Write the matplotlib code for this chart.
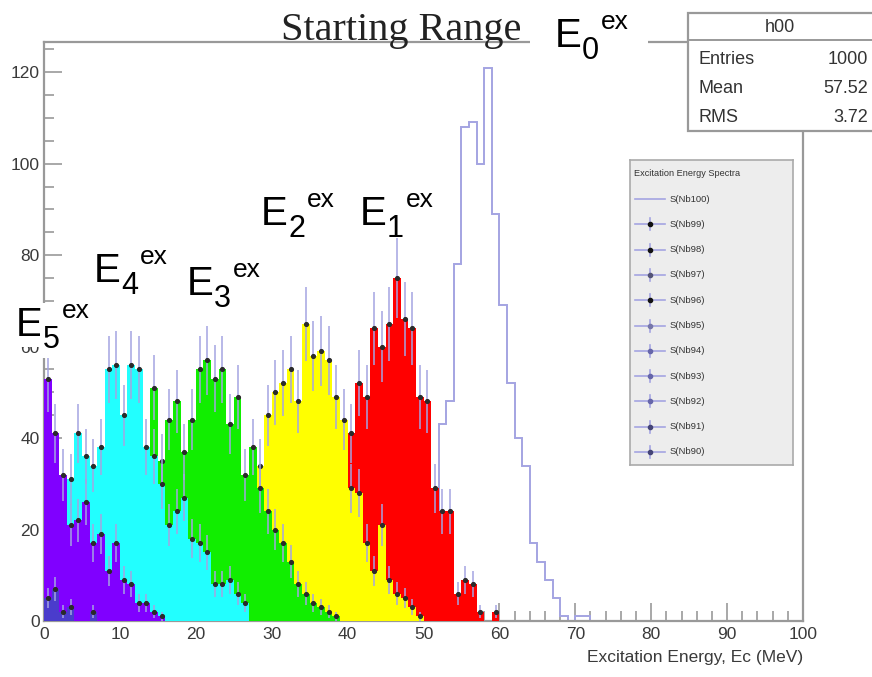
import numpy as np
import matplotlib.pyplot as plt
from matplotlib.patches import Rectangle
from matplotlib.ticker import MultipleLocator

plt.rcParams['font.family'] = ['Liberation Sans', 'DejaVu Sans']

# 1 MeV bins; each spectrum starts at its *_start bin edge
e0_start = 52
e0_counts = [43, 48, 78, 108, 109, 100, 121, 89, 69, 52, 40, 34, 17, 13, 9, 5, 1, 0, 1, 1]

e1_start = 40
e1_counts = [41, 52, 49, 64, 60, 65, 75, 66, 64, 49, 48, 29, 24, 24, 6, 9, 8, 2, 0, 2]

e2_start = 28
e2_counts = [34, 45, 50, 52, 55, 48, 65, 58, 59, 57, 49, 44, 29, 28, 17, 11, 21, 9, 6, 5, 3, 1]

e3_start = 14
e3_counts = [51, 35, 44, 48, 37, 44, 55, 57, 53, 55, 43, 49, 32, 38, 29, 24, 20, 17, 13, 8, 6, 4, 3, 2, 1]

e4_start = 3
e4_counts = [31, 41, 36, 34, 38, 55, 56, 45, 56, 55, 38, 36, 30, 21, 24, 27, 18, 17, 15, 8, 8, 9, 6, 4]

e5_start = 0
e5_counts = [53, 41, 32, 21, 22, 26, 17, 19, 11, 17, 9, 8, 4, 4, 2, 1]

e6_start = 0
e6_counts = [5, 7, 2, 3, 0, 0, 2]

fill_colors = ['#ff0000', '#ffff00', '#11ee00', '#22ffff', '#8000ff', '#4a3ccc']

legend_labels = ['S(Nb100)', 'S(Nb99)', 'S(Nb98)', 'S(Nb97)', 'S(Nb96)', 'S(Nb95)',
                 'S(Nb94)', 'S(Nb93)', 'S(Nb92)', 'S(Nb91)', 'S(Nb90)']

stats_names = ['Entries', 'Mean', 'RMS']
stats_values = ['1000', '57.52', '3.72']

LAV = '#a4a4e2'
W, H = 872, 677


def fx(px):
    return px / W


def fy(py):
    return 1 - py / H


fig = plt.figure(figsize=(W / 100, H / 100), dpi=100)
ax = fig.add_axes([fx(44), fy(621), (803 - 44) / W, (621 - 42) / H])
ax.set_xlim(0, 100)
ax.set_ylim(0, 126.6)

# E0: outline only
c0 = np.array(e0_counts, float)
ax.stairs(c0, np.arange(e0_start, e0_start + len(c0) + 1), color=LAV, lw=1.4, zorder=2)

spectra = [(e1_start, e1_counts), (e2_start, e2_counts), (e3_start, e3_counts),
           (e4_start, e4_counts), (e5_start, e5_counts), (e6_start, e6_counts)]

z = 3
for (start, counts), col in zip(spectra, fill_colors):
    c = np.array(counts, float)
    edges = np.arange(start, start + len(c) + 1)
    ax.stairs(c, edges, fill=True, color=col, lw=0, zorder=z)
    centers = edges[:-1] + 0.5
    m = c > 0
    ax.errorbar(centers[m], c[m], yerr=np.sqrt(c[m]), fmt='o', ms=2.7,
                mfc='#2a2a2a', mec='#2a2a2a', ecolor=LAV, elinewidth=1.1,
                capsize=0, zorder=z + 0.5)
    z += 1

# axes style (ROOT-like)
for s in ax.spines.values():
    s.set_color('#999999')
    s.set_linewidth(1.6)
ax.xaxis.set_major_locator(MultipleLocator(10))
ax.xaxis.set_minor_locator(MultipleLocator(2))
ax.yaxis.set_major_locator(MultipleLocator(20))
ax.yaxis.set_minor_locator(MultipleLocator(5))
ax.tick_params(which='both', direction='in', color='#999999', width=1.2,
               labelsize=12.5, labelcolor='#3a3a3a')
ax.tick_params(which='major', length=13)
ax.tick_params(which='minor', length=7)
ax.tick_params(axis='x', pad=4)
ax.tick_params(axis='y', pad=3)
ax.set_xlabel('Excitation Energy, Ec (MeV)', loc='right', fontsize=12.5,
              color='#3a3a3a', labelpad=6)

# title
fig.text(fx(401), fy(40), 'Starting Range', family='Liberation Serif', fontsize=29,
         ha='center', va='baseline', color='#222222')

# white patch hiding frame line behind E0 label
fig.patches.append(Rectangle((fx(530), fy(55)), fx(118), 30 / H, transform=fig.transFigure,
                             fc='white', ec='none', zorder=5))


def e_label(px, py, sub, white=False):
    bb = dict(fc='white', ec='none', pad=2) if white else None
    fig.text(fx(px), fy(py), 'E', fontsize=29, va='baseline', zorder=6, bbox=bb)
    fig.text(fx(px + 27), fy(py + 12), sub, fontsize=22, va='baseline', zorder=6, bbox=bb)
    fig.text(fx(px + 46), fy(py - 18), 'ex', fontsize=19, va='baseline', zorder=6)


e_label(555, 47, '0')
e_label(360, 225, '1')
e_label(261, 225, '2')
e_label(187, 295, '3')
e_label(94, 282, '4')
e_label(16, 336, '5', white=True)

# stats box
fig.patches.append(Rectangle((fx(688), fy(131)), fx(200), 118 / H, transform=fig.transFigure,
                             fc='white', ec='#999999', lw=1.6, zorder=5))
fig.lines.append(plt.Line2D([fx(688), 1], [fy(40), fy(40)], transform=fig.transFigure,
                            color='#999999', lw=1.4, zorder=6))
fig.text(fx(780), fy(27), 'h00', fontsize=13, ha='center', va='center', color='#333333', zorder=7)
for i, (n, v) in enumerate(zip(stats_names, stats_values)):
    yy = fy(60 + 28.5 * i)
    fig.text(fx(698), yy, n, fontsize=13, ha='left', va='center', color='#333333', zorder=7)
    fig.text(fx(868), yy, v, fontsize=13, ha='right', va='center', color='#333333', zorder=7)

# legend box
lax = fig.add_axes([fx(630), fy(465), 163 / W, 305 / H])
lax.set_xlim(0, 163)
lax.set_ylim(305, 0)
lax.set_facecolor('#ededed')
for s in lax.spines.values():
    s.set_color('#aaaaaa')
    s.set_linewidth(1.2)
lax.set_xticks([])
lax.set_yticks([])
lax.text(4, 13, 'Excitation Energy Spectra', fontsize=6.6, va='center', color='#333333')
mk_colors = ['#111111', '#111111', '#555577', '#111111', '#7777aa', '#6666aa',
             '#6666aa', '#6666aa', '#444477', '#444477']
for i, lab in enumerate(legend_labels):
    yy = 39 + 25.3 * i
    lax.plot([5, 35], [yy, yy], color=LAV, lw=1.2)
    if i > 0:
        lax.plot([20, 20], [yy - 6, yy + 6], color=LAV, lw=1.2)
        lax.plot([20], [yy], 'o', ms=3, color=mk_colors[i - 1])
    lax.text(40, yy, lab, fontsize=6.8, va='center', color='#333333')

fig.savefig('out.png', dpi=100)
